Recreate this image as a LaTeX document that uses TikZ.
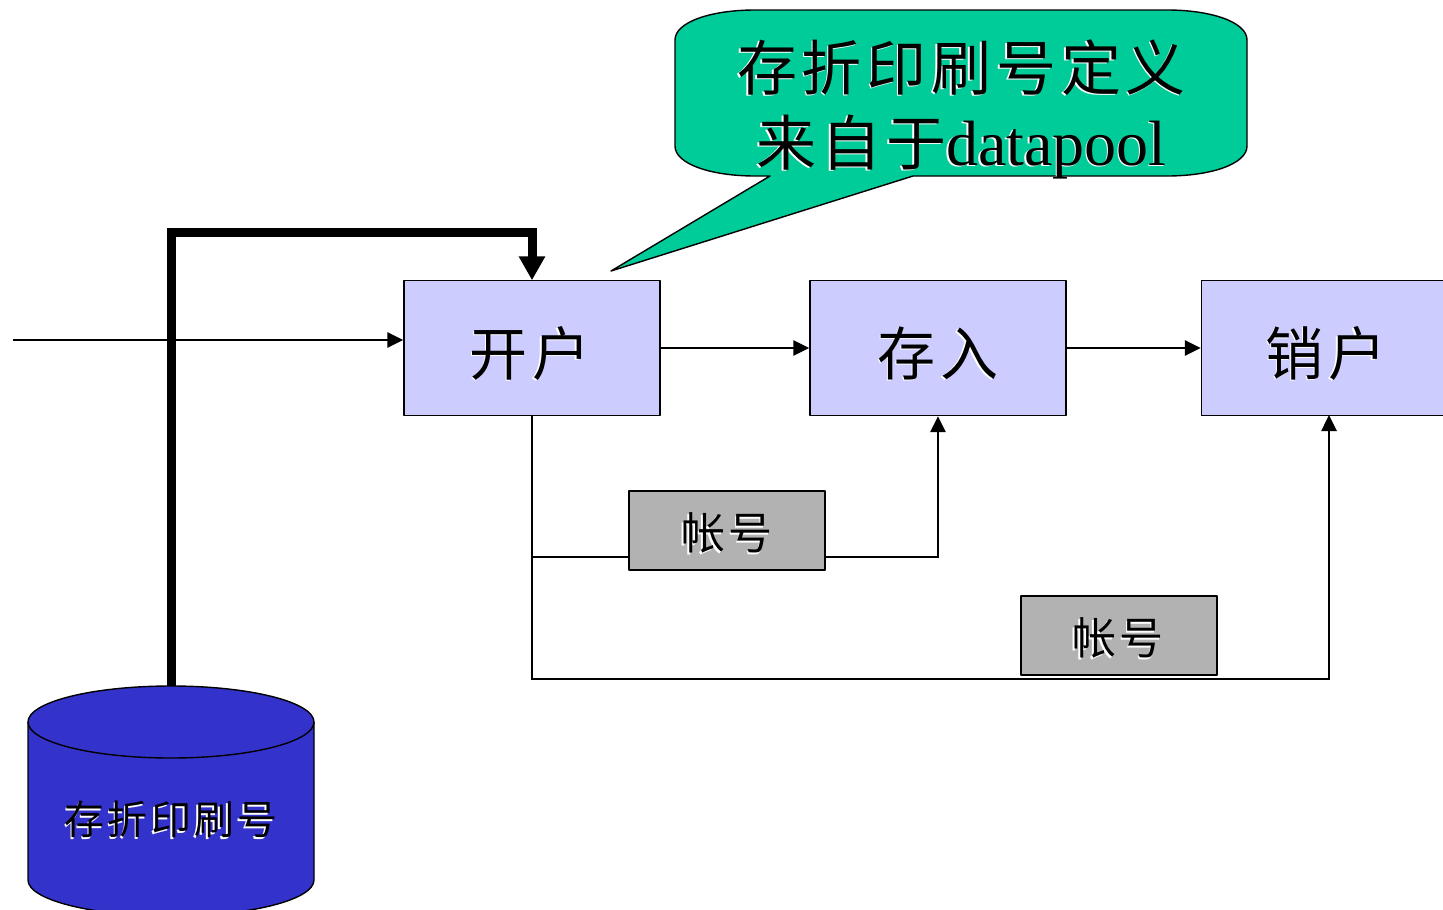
\documentclass[tikz,border=0pt]{standalone}
\usepackage{fontspec}
\setmainfont{Liberation Serif}
\newfontfamily\cjk[LetterSpace=8]{Noto Sans CJK SC}
\usetikzlibrary{arrows.meta}
\newcommand{\shdw}[1]{\makebox[0pt][l]{\kern-1.6pt\raisebox{-1.6pt}{\color{white}#1}}#1}
\definecolor{balloongreen}{HTML}{00CC99}
\definecolor{stepblue}{HTML}{CCCCFF}
\definecolor{tokengray}{HTML}{B2B2B2}
\definecolor{dbblue}{HTML}{3333CC}
\tikzset{
  x=1pt,y=-1pt,
  outlined/.style={draw=black,line width=1.4pt,line join=round},
  stepbox/.style={outlined,fill=stepblue,minimum width=256pt,minimum height=135pt,inner sep=0pt,text height=61pt,text depth=7pt,font=\cjk\fontsize{58}{64}\selectfont},
  tokenbox/.style={outlined,fill=tokengray,minimum width=196pt,minimum height=79pt,inner sep=0pt,text height=43.7pt,text depth=5.3pt,font=\cjk\fontsize{44}{50}\selectfont},
  thin link/.style={line width=2.6pt,-{Triangle[length=16pt,width=15pt]}},
  plain link/.style={line width=2.6pt},
  thick link/.style={line width=9pt,-{Triangle[length=24pt,width=25pt]},shorten >=-0.5pt},
}
\begin{document}
\begin{tikzpicture}
\useasboundingbox (0,0) rectangle (1443,910);
\clip (0,0) rectangle (1443,910);
\fill[white] (0,0) rectangle (1443,910);
% balloon
\draw[outlined,fill=balloongreen]
  (755,10) -- (1167,10) .. controls (1211,10) and (1247,22) .. (1247,40)
  -- (1247,146) .. controls (1247,164) and (1211,176) .. (1167,176)
  -- (913,176) -- (611,271) -- (770,176) -- (755,176)
  .. controls (711,176) and (675,164) .. (675,146)
  -- (675,40) .. controls (675,22) and (711,10) .. (755,10) -- cycle;
\node[align=center,inner sep=0pt,font=\fontsize{60}{75}\selectfont] (note) at (961.5,110)
  {{\cjk\shdw{存折印刷号定义}}\\\shdw{{\cjk 来自于}{\fontsize{64}{75}\selectfont datapool}}};
% boxes
\node[stepbox] (open) at (532,348) {\shdw{开户}\kern4pt};
\node[stepbox] (deposit) at (938,348) {\shdw{存入}};
\node[stepbox] (close) at (1329.5,348) {\shdw{销户}\kern7pt};
\node[tokenbox] (acct a) at (727,530.5) {\shdw{帐号}};
\node[tokenbox] (acct b) at (1119,635.5) {\shdw{帐号}\kern2pt};
% cylinder
\draw[outlined,fill=dbblue] (28,722) -- (28,880) arc[start angle=180,end angle=360,x radius=143,y radius=-36] -- (314,722);
\draw[outlined,fill=dbblue] (171,722) ellipse[x radius=143,y radius=36];
\node[inner sep=0pt,font=\cjk\fontsize{40}{46}\selectfont] (dblabel) at (171,820) {\shdw{存折印刷号}};
\coordinate (dbtop) at (171,686);
\coordinate (entry) at (13,340);
\coordinate (open in) at (open.west |- entry);
% connectors
\draw[thick link] (dbtop) -- (171,232) -| (open.north);
\draw[thin link] (entry) -- (open in);
\draw[thin link] (open.east) -- (deposit.west);
\draw[thin link] (deposit.east) -- (close.west);
\draw[plain link] (open.south) |- (acct a.west |- 0,557);
\draw[thin link] (acct a.east |- 0,557) -| (deposit.south);
\draw[thin link] (open.south) |- (1329,679) -- (1329,415);
\end{tikzpicture}
\end{document}
